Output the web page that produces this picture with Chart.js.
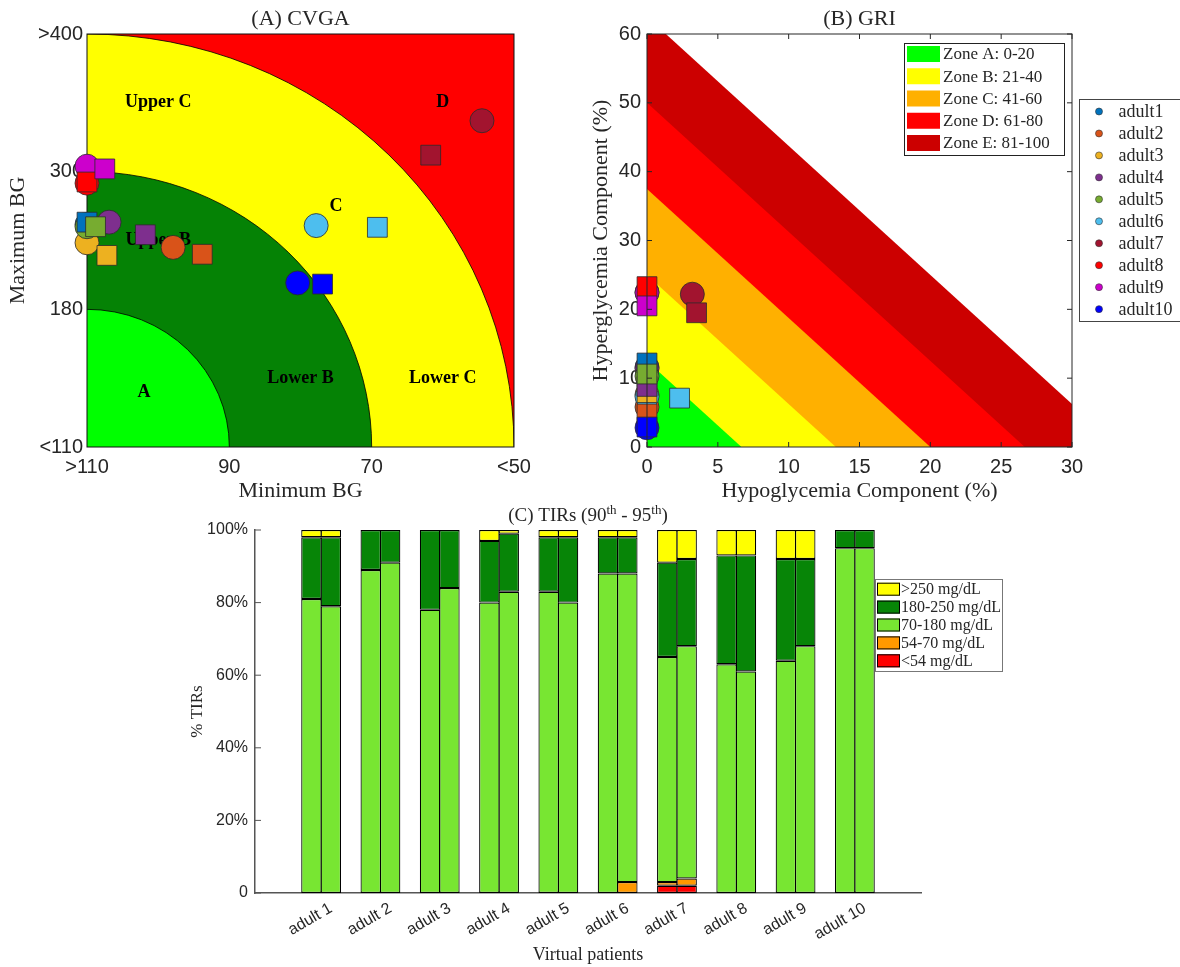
<!DOCTYPE html>
<html>
<head>
<meta charset="utf-8">
<title>CVGA, GRI and TIRs</title>
<script src="https://cdn.jsdelivr.net/npm/chart.js@4.4.0/dist/chart.umd.min.js"></script>
<style>
  html, body { margin: 0; padding: 0; background: #fff; }
  #page { position: relative; width: 1180px; height: 967px; overflow: hidden; }
  canvas { position: absolute; }
</style>
</head>
<body>
<div id="page">
  <canvas id="cvga" width="560" height="512" style="left:0;top:0"></canvas>
  <canvas id="gri" width="620" height="512" style="left:560px;top:0"></canvas>
  <canvas id="tirs" width="840" height="467" style="left:170px;top:500px"></canvas>
</div>
<script>
// patients
const patients = ['adult1', 'adult2', 'adult3', 'adult4', 'adult5', 'adult6', 'adult7', 'adult8', 'adult9', 'adult10'];
const tirPatients = ['adult 1', 'adult 2', 'adult 3', 'adult 4', 'adult 5', 'adult 6', 'adult 7', 'adult 8', 'adult 9', 'adult 10'];

// (A) CVGA, min / max BG in mg/dL (circles = 90th, squares = 95th)
const cvgaMinBG90 = [110, 97.9, 110, 106.9, 110, 77.8, 54.5, 110, 110, 80.4];
const cvgaMaxBG90 = [254, 234, 238, 256, 252, 253, 337, 290, 304, 203];
const cvgaMinBG95 = [110, 93.8, 107.2, 101.8, 108.8, 69.2, 61.7, 110, 107.5, 76.9];
const cvgaMaxBG95 = [256, 228, 227, 245, 252, 251.5, 312, 291, 302, 202];
const cvgaMinEdges = [110, 90, 70, 50];
const cvgaMaxEdges = [110, 180, 300, 400];
const cvgaMinTicks = ['>110', '90', '70', '<50'];
const cvgaMaxTicks = ['<110', '180', '300', '>400'];
const cvgaZoneNames = ['A', 'Lower B', 'Lower C', 'Upper B', 'C', 'Upper C', 'D'];

// (B) GRI components in %
const griHypo90 = [0, 0, 0, 0, 0, 0, 3.2, 0, 0, 0];
const griHyper90 = [11.6, 5.8, 7.6, 11.4, 10.3, 7.3, 22.2, 22.5, 22.4, 2.8];
const griHypo95 = [0, 0, 0, 0, 0, 2.3, 3.5, 0, 0, 0];
const griHyper95 = [12.2, 4.8, 7.9, 8.8, 10.6, 7.1, 19.5, 23.3, 20.5, 2.9];
const griZones = ['Zone A: 0-20', 'Zone B: 21-40', 'Zone C: 41-60', 'Zone D: 61-80', 'Zone E: 81-100'];
const griZoneHypoEdge = [6.67, 13.33, 20, 26.67, 33.33];
const griZoneHyperEdge = [12.5, 25, 37.5, 50, 62.5];

// (C) TIRs in %, bottom to top
const tirBands = ['<54 mg/dL', '54-70 mg/dL', '70-180 mg/dL', '180-250 mg/dL', '>250 mg/dL'];
const p90Below54 = [0, 0, 0, 0, 0, 0, 2, 0, 0, 0];
const p90From54 = [0, 0, 0, 0, 0, 0, 1, 0, 0, 0];
const p90InRange = [81, 89, 78, 80, 83, 88, 62, 63, 64, 95];
const p90From180 = [17, 11, 22, 17, 15, 10, 26, 30, 28, 5];
const p90Above250 = [2, 0, 0, 3, 2, 2, 9, 7, 8, 0];
const p95Below54 = [0, 0, 0, 0, 0, 0, 2, 0, 0, 0];
const p95From54 = [0, 0, 0, 0, 0, 3, 2, 0, 0, 0];
const p95InRange = [79, 91, 84, 83, 80, 85, 64, 61, 68, 95];
const p95From180 = [19, 9, 16, 16, 18, 10, 24, 32, 24, 5];
const p95Above250 = [2, 0, 0, 1, 2, 2, 8, 7, 8, 0];

// styles
const patientColors = ['#0072BD', '#D95319', '#EDB120', '#7E2F8E', '#77AC30', '#4DBEEE', '#A2142F', '#FF0000', '#CC00CC', '#0000FF'];
const griColors = ['#00FF00', '#FFFF00', '#FFB000', '#FF0000', '#CC0000'];
const bandColors = ['#FF0000', '#FF9900', '#78E632', '#078507', '#FFFF00'];
const SERIF = "'Liberation Serif', 'DejaVu Serif', serif";
const SANS = "'Liberation Sans', Arial, sans-serif";
const INK = '#262626';

Chart.defaults.font.family = SANS;
Chart.defaults.color = INK;

// CVGA axes are piecewise: each band between two edges gets one grid unit
function toGrid(v, edges) {
    for (let i = 0; i < edges.length - 1; i++) {
        const t = (v - edges[i]) / (edges[i + 1] - edges[i]);
        if (t <= 1 || i === edges.length - 2) return i + Math.max(0, Math.min(1, t));
    }
}

function markerSets(hx90, hy90, hx95, hy95) {
    const sets = [];
    patients.forEach((p, i) => {
        sets.push({
            label: p, legendGroup: 'patient',
            data: [{ x: hx90[i], y: hy90[i] }],
            pointStyle: 'circle', pointRadius: 12, pointHoverRadius: 12,
            backgroundColor: patientColors[i], borderColor: '#2b2b2b', borderWidth: 0.8,
            order: 40 - i, clip: false
        });
        sets.push({
            label: p + ' (95th)',
            data: [{ x: hx95[i], y: hy95[i] }],
            pointStyle: 'rect', pointRadius: 14, pointHoverRadius: 14,
            backgroundColor: patientColors[i], borderColor: '#2b2b2b', borderWidth: 0.8,
            order: 20 - i, clip: false
        });
    });
    return sets;
}

function panelTitle(parts, dy) {
    return {
        id: 'panelTitle',
        afterDraw(chart) {
            const { ctx, chartArea: a } = chart;
            ctx.save();
            ctx.fillStyle = INK;
            ctx.textAlign = 'left';
            ctx.textBaseline = 'alphabetic';
            const widths = parts.map(p => { ctx.font = p.font; return ctx.measureText(p.text).width; });
            let x = (a.left + a.right) / 2 - widths.reduce((s, w) => s + w, 0) / 2;
            parts.forEach((p, i) => {
                ctx.font = p.font;
                ctx.fillText(p.text, x, a.top - dy - (p.rise || 0));
                x += widths[i];
            });
            ctx.restore();
        }
    };
}

function frame(cfg) {
    const draw = chart => {
        const { ctx, chartArea: a, scales } = chart;
        ctx.save();
        ctx.strokeStyle = cfg.color;
        ctx.lineWidth = cfg.width || 1;
        if (cfg.box) ctx.strokeRect(a.left, a.top, a.right - a.left, a.bottom - a.top);
        ctx.beginPath();
        if (cfg.xTicks) {
            scales.x.ticks.forEach(t => {
                const px = scales.x.getPixelForValue(t.value);
                ctx.moveTo(px, a.bottom); ctx.lineTo(px, a.bottom - cfg.tick);
                if (cfg.box) { ctx.moveTo(px, a.top); ctx.lineTo(px, a.top + cfg.tick); }
            });
        }
        if (cfg.yTicks) {
            scales.y.ticks.forEach(t => {
                const py = scales.y.getPixelForValue(t.value);
                ctx.moveTo(a.left, py); ctx.lineTo(a.left + cfg.tick, py);
                if (cfg.box) { ctx.moveTo(a.right, py); ctx.lineTo(a.right - cfg.tick, py); }
            });
        }
        ctx.stroke();
        ctx.restore();
    };
    return {
        id: 'frame',
        beforeDatasetsDraw(chart) { if (!cfg.onTop) draw(chart); },
        afterDatasetsDraw(chart) { if (cfg.onTop) draw(chart); }
    };
}

function boxLegend(cfg) {
    return {
        id: 'boxLegend_' + cfg.group,
        afterDraw(chart) {
            const { ctx, chartArea: a } = chart;
            let items = chart.data.datasets.filter(ds => ds.legendGroup === cfg.group);
            if (cfg.reverse) items = items.slice().reverse();
            const left = a.right + cfg.dx, top = a.top + cfg.dy;
            ctx.save();
            ctx.fillStyle = '#fff';
            ctx.fillRect(left, top, cfg.w, cfg.h);
            ctx.strokeStyle = cfg.edge;
            ctx.lineWidth = 1;
            ctx.strokeRect(left + 0.5, top + 0.5, cfg.w, cfg.h);
            ctx.font = cfg.font;
            ctx.textAlign = 'left';
            ctx.textBaseline = 'middle';
            items.forEach((ds, i) => {
                const cy = top + cfg.first + i * cfg.row;
                ctx.fillStyle = ds.backgroundColor;
                if (cfg.dot) {
                    ctx.beginPath();
                    ctx.arc(left + cfg.mx, cy, cfg.dot, 0, Math.PI * 2);
                    ctx.fill();
                    ctx.lineWidth = 0.6;
                    ctx.strokeStyle = '#333';
                    ctx.stroke();
                } else {
                    ctx.fillRect(left + cfg.mx, cy - cfg.sh / 2, cfg.sw, cfg.sh);
                    if (cfg.swEdge) {
                        ctx.lineWidth = 1;
                        ctx.strokeStyle = cfg.swEdge;
                        ctx.strokeRect(left + cfg.mx + 0.5, cy - cfg.sh / 2 + 0.5, cfg.sw - 1, cfg.sh - 1);
                    }
                }
                ctx.fillStyle = INK;
                ctx.fillText(ds.label, left + cfg.tx, cy + 1);
            });
            ctx.restore();
        }
    };
}

// quarter ellipses of the CVGA plus the zone names
function cvgaZones(spots) {
    return {
        id: 'cvgaZones',
        beforeDatasetsDraw(chart) {
            const { ctx, chartArea: a, scales: { x, y } } = chart;
            const x0 = x.getPixelForValue(0), y0 = y.getPixelForValue(0);
            ctx.save();
            ctx.beginPath();
            ctx.rect(a.left, a.top, a.right - a.left, a.bottom - a.top);
            ctx.clip();
            ctx.fillStyle = '#FF0000';
            ctx.fillRect(a.left, a.top, a.right - a.left, a.bottom - a.top);
            [[3, '#FFFF00'], [2, '#058205'], [1, '#00FF00']].forEach(([r, c]) => {
                const rx = x.getPixelForValue(r) - x0, ry = y0 - y.getPixelForValue(r);
                ctx.beginPath();
                ctx.moveTo(x0, y0);
                ctx.ellipse(x0, y0, rx, ry, 0, -Math.PI / 2, 0);
                ctx.closePath();
                ctx.fillStyle = c;
                ctx.fill();
                ctx.beginPath();
                ctx.ellipse(x0, y0, rx, ry, 0, -Math.PI / 2, 0);
                ctx.strokeStyle = '#000';
                ctx.lineWidth = 0.8;
                ctx.stroke();
            });
            ctx.fillStyle = '#000';
            ctx.font = `bold 18px ${SERIF}`;
            ctx.textAlign = 'center';
            ctx.textBaseline = 'middle';
            cvgaZoneNames.forEach((n, i) => {
                ctx.fillText(n, x.getPixelForValue(spots[i][0]), y.getPixelForValue(spots[i][1]));
            });
            ctx.restore();
        }
    };
}

// ---------- (A) CVGA ----------
new Chart(document.getElementById('cvga'), {
    type: 'scatter',
    data: {
        datasets: markerSets(
            cvgaMinBG90.map(v => toGrid(v, cvgaMinEdges)), cvgaMaxBG90.map(v => toGrid(v, cvgaMaxEdges)),
            cvgaMinBG95.map(v => toGrid(v, cvgaMinEdges)), cvgaMaxBG95.map(v => toGrid(v, cvgaMaxEdges)))
    },
    options: {
        responsive: false,
        animation: false,
        layout: { padding: { top: 34, right: 46, bottom: 0, left: 0 } },
        plugins: { legend: { display: false }, tooltip: { enabled: false } },
        scales: {
            x: {
                type: 'linear', min: 0, max: 3,
                grid: { display: false, drawTicks: false }, border: { display: false },
                afterBuildTicks: s => { s.ticks = cvgaMinTicks.map((_, i) => ({ value: i })); },
                afterFit: s => { s.height = 65; },
                ticks: { font: { size: 20 }, padding: 8, maxRotation: 0, callback: v => cvgaMinTicks[v] },
                title: { display: true, text: 'Minimum BG', color: INK, font: { family: SERIF, size: 22 }, padding: { top: 0, bottom: 8 } }
            },
            y: {
                type: 'linear', min: 0, max: 3,
                grid: { display: false, drawTicks: false }, border: { display: false },
                afterBuildTicks: s => { s.ticks = cvgaMaxTicks.map((_, i) => ({ value: i })); },
                afterFit: s => { s.width = 87; },
                ticks: { font: { size: 20 }, padding: 4, callback: v => cvgaMaxTicks[v] },
                title: { display: true, text: 'Maximum BG', color: INK, font: { family: SERIF, size: 22 }, padding: { top: 5, bottom: 0 } }
            }
        }
    },
    plugins: [
        cvgaZones([[0.4, 0.4], [1.5, 0.5], [2.5, 0.5], [0.5, 1.5], [1.75, 1.75], [0.5, 2.5], [2.5, 2.5]]),
        frame({ color: '#111', width: 1, box: true, onTop: false }),
        panelTitle([{ text: '(A) CVGA', font: `22px ${SERIF}` }], 9)
    ]
});

// ---------- (B) GRI ----------
const griSets = griZones.map((z, k) => ({
    label: z, legendGroup: 'zone',
    data: [{ x: 0, y: griZoneHyperEdge[k] }, { x: griZoneHypoEdge[k], y: 0 }],
    showLine: true, fill: 'origin',
    backgroundColor: griColors[k], borderColor: 'transparent', borderWidth: 0,
    pointRadius: 0, pointHoverRadius: 0, order: 50 + k
})).concat(markerSets(griHypo90, griHyper90, griHypo95, griHyper95));

new Chart(document.getElementById('gri'), {
    type: 'scatter',
    data: { datasets: griSets },
    options: {
        responsive: false,
        animation: false,
        layout: { padding: { top: 34, right: 108, bottom: 0, left: 0 } },
        plugins: { legend: { display: false }, tooltip: { enabled: false } },
        scales: {
            x: {
                type: 'linear', min: 0, max: 30,
                grid: { display: false, drawTicks: false }, border: { display: false },
                afterFit: s => { s.height = 65; },
                ticks: { stepSize: 5, font: { size: 20 }, padding: 8, maxRotation: 0 },
                title: { display: true, text: 'Hypoglycemia Component (%)', color: INK, font: { family: SERIF, size: 22 }, padding: { top: 0, bottom: 8 } }
            },
            y: {
                type: 'linear', min: 0, max: 60,
                grid: { display: false, drawTicks: false }, border: { display: false },
                afterFit: s => { s.width = 87; },
                ticks: { stepSize: 10, font: { size: 20 }, padding: 6 },
                title: { display: true, text: 'Hyperglycemia Component (%)', color: INK, font: { family: SERIF, size: 22 }, padding: { top: 28, bottom: 0 } }
            }
        }
    },
    plugins: [
        frame({ color: INK, width: 1, box: true, xTicks: true, yTicks: true, tick: 5, onTop: true }),
        boxLegend({ group: 'zone', dx: -168, dy: 9, w: 160, h: 112, first: 11, row: 22.25,
            mx: 3, sw: 33, sh: 16, tx: 39, font: `17px ${SERIF}`, edge: '#222' }),
        boxLegend({ group: 'patient', dx: 7, dy: 65, w: 110, h: 222, first: 12.5, row: 21.96,
            mx: 20, dot: 3.5, tx: 39.5, font: `18px ${SERIF}`, edge: '#444' }),
        panelTitle([{ text: '(B) GRI', font: `22px ${SERIF}` }], 9)
    ]
});

// ---------- (C) TIRs ----------
const tirSets = [];
[['p90', [p90Below54, p90From54, p90InRange, p90From180, p90Above250]],
 ['p95', [p95Below54, p95From54, p95InRange, p95From180, p95Above250]]].forEach(([stack, bands]) => {
    bands.forEach((vals, k) => {
        tirSets.push({
            label: tirBands[k], stack: stack,
            legendGroup: stack === 'p90' ? 'band' : null,
            data: vals.map((v, i) => ({ x: i + 1, y: v })),
            backgroundColor: bandColors[k], borderColor: '#000', borderWidth: 1.2, borderSkipped: false,
            inflateAmount: 0, categoryPercentage: 0.655, barPercentage: 1.05
        });
    });
});

new Chart(document.getElementById('tirs'), {
    type: 'bar',
    data: { datasets: tirSets },
    options: {
        responsive: false,
        animation: false,
        layout: { padding: { top: 30, right: 89, bottom: 0, left: 0 } },
        plugins: { legend: { display: false }, tooltip: { enabled: false } },
        scales: {
            x: {
                type: 'linear', stacked: true, offset: false, min: -0.115, max: 11.115,
                grid: { display: false, drawTicks: false }, border: { color: '#555', width: 1.5 },
                afterBuildTicks: s => { s.ticks = tirPatients.map((_, i) => ({ value: i + 1 })); },
                afterFit: s => { s.height = 74; },
                ticks: { autoSkip: false, minRotation: 30, maxRotation: 30, padding: 6, labelOffset: 10,
                    font: { size: 16 }, callback: v => tirPatients[v - 1] },
                title: { display: true, text: 'Virtual patients', color: INK, font: { family: SERIF, size: 18 }, padding: { top: 0, bottom: 1 } }
            },
            y: {
                type: 'linear', stacked: true, min: 0, max: 100,
                grid: { display: false, drawTicks: false }, border: { color: '#555', width: 1.5 },
                afterFit: s => { s.width = 85; },
                ticks: { stepSize: 20, padding: 7, font: { size: 16 }, callback: v => v === 0 ? '0' : v + '%' },
                title: { display: true, text: '% TIRs', color: INK, font: { family: SERIF, size: 17 }, padding: { top: 17, bottom: 0 } }
            }
        }
    },
    plugins: [
        frame({ color: '#555', width: 1, yTicks: true, tick: 6, onTop: true }),
        boxLegend({ group: 'band', reverse: true, dx: -46, dy: 49, w: 127, h: 92, first: 10.2, row: 17.9,
            mx: 2, sw: 23, sh: 13, swEdge: '#000', tx: 26, font: `16px ${SERIF}`, edge: '#777' }),
        panelTitle([
            { text: '(C) TIRs (90', font: `19px ${SERIF}` },
            { text: 'th', font: `13px ${SERIF}`, rise: 7 },
            { text: ' - 95', font: `19px ${SERIF}` },
            { text: 'th', font: `13px ${SERIF}`, rise: 7 },
            { text: ')', font: `19px ${SERIF}` }
        ], 9)
    ]
});
</script>
</body>
</html>
